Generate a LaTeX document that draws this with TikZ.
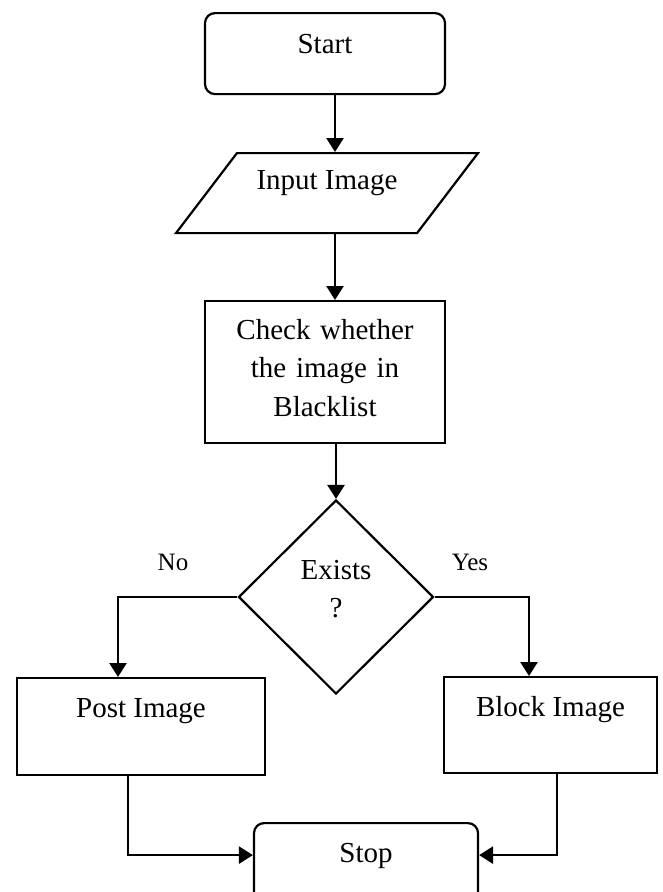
\documentclass[tikz,border=0pt]{standalone}
\usepackage{fontspec}
\setmainfont{Liberation Serif}
\usetikzlibrary{arrows.meta,shapes.geometric}

\tikzset{
  termbox/.style={draw, line width=2.2pt, rounded corners=10pt, inner sep=0pt},
  procbox/.style={draw, line width=2.2pt, inner sep=0pt},
  iobox/.style={draw, line width=2.2pt, trapezium, trapezium left angle=52.7,
    trapezium right angle=127.3, trapezium stretches body, inner sep=0pt},
  decbox/.style={draw, line width=2.2pt, diamond, inner sep=0pt},
  flow/.style={->, line width=2.6pt},
  branch/.style={font=\fontsize{25}{30}\selectfont},
}

\begin{document}
\begin{tikzpicture}[x=1pt, y=-1pt, >={Triangle[length=14pt,width=17pt]},
  every node/.style={font=\fontsize{29}{38.5}\selectfont}]
  \useasboundingbox (0,0) rectangle (662,892);
  \clip (0,0) rectangle (662,892);

  % main column
  \node[termbox, anchor=north, minimum width=240pt, text height=40pt, text depth=41pt] (start) at (325,12) {Start};
  \node[iobox, anchor=north, minimum width=302pt, text height=36pt, text depth=44pt] (input) at (327,152) {Input Image};
  \node[procbox, anchor=north, text width=240pt, align=center, text height=38pt, text depth=104pt] (check) at (325,300)
    {Check whether\\the image in\\Blacklist};
  \node[decbox, minimum width=195pt, minimum height=194pt, text width=100pt, align=center,
    text height=20pt, text depth=56pt] (exists) at (336,597) {Exists\\?};

  % branches
  \node[procbox, anchor=north, minimum width=248pt, text height=39pt, text depth=58pt] (post) at (141,677) {Post Image};
  \node[procbox, anchor=north, minimum width=213pt, text height=39pt, text depth=57pt] (block) at (550.5,676) {Block Image};
  \node[termbox, anchor=north, minimum width=224pt, text height=39pt, text depth=41pt] (stop) at (366,822) {Stop};

  \node[branch, anchor=base] (nolab) at (173,570) {No};
  \node[branch, anchor=base] (yeslab) at (470,570) {Yes};

  % connectors
  \coordinate (spine) at (335,0);
  \draw[flow] (start.south -| spine) -- (input.north -| spine);
  \draw[flow] (input.south -| spine) -- (check.north -| spine);
  \draw[flow] (check.south -| exists.north) -- (exists.north);
  \draw[flow] (exists.west) -| ([xshift=-23pt]post.north);
  \draw[flow] (exists.east) -| ([xshift=-21.5pt]block.north);
  \draw[flow] ([xshift=-13pt]post.south) |- ([yshift=8pt]stop.west);
  \draw[flow] ([xshift=6.5pt]block.south) |- ([yshift=8pt]stop.east);
\end{tikzpicture}
\end{document}
